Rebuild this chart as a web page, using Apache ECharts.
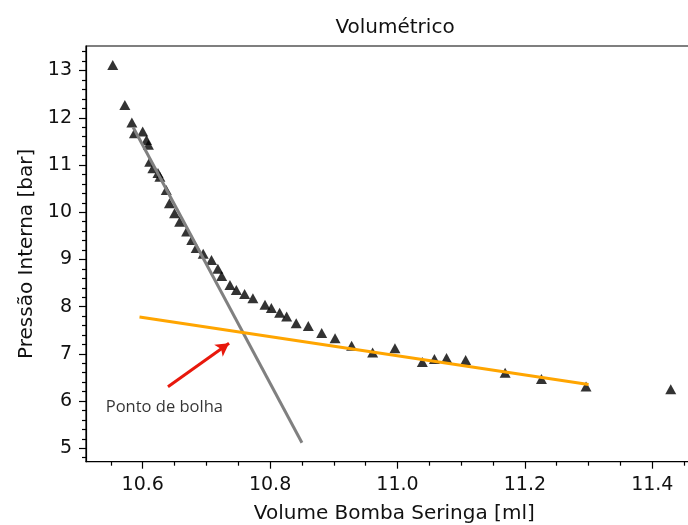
<!DOCTYPE html>
<html>
<head>
<meta charset="utf-8">
<script src="https://cdn.jsdelivr.net/npm/echarts@6/dist/echarts.min.js"></script>
<style>
html,body{margin:0;padding:0;background:#fff;overflow:hidden;}
#c{width:688px;height:525px;}
</style>
</head>
<body>
<div id="c"></div>
<script>
// ---- data ----
const volume = [10.553, 10.572, 10.583, 10.587, 10.600, 10.606, 10.609, 10.611, 10.616, 10.624,
  10.627, 10.637, 10.642, 10.650, 10.658, 10.669, 10.677, 10.684, 10.695, 10.708,
  10.718, 10.724, 10.737, 10.747, 10.760, 10.773, 10.792, 10.802, 10.815, 10.826,
  10.841, 10.860, 10.881, 10.902, 10.928, 10.961, 10.996, 11.039, 11.058, 11.077,
  11.107, 11.169, 11.226, 11.296, 11.429];
const pressure = [13.12, 12.27, 11.90, 11.67, 11.71, 11.53, 11.43, 11.07, 10.93, 10.83,
  10.75, 10.47, 10.19, 9.98, 9.80, 9.59, 9.41, 9.24, 9.12, 8.99,
  8.80, 8.65, 8.46, 8.35, 8.27, 8.18, 8.04, 7.97, 7.87, 7.79,
  7.65, 7.59, 7.44, 7.33, 7.17, 7.03, 7.12, 6.83, 6.89, 6.91,
  6.87, 6.60, 6.47, 6.31, 6.25];
const grayLineX = [10.585, 10.850];
const grayLineY = [11.80, 5.116];
const orangeLineX = [10.595, 11.300];
const orangeLineY = [7.78, 6.35];
const arrowX = [10.6397, 10.7356];
const arrowY = [6.305, 7.225];
const noteText = 'Ponto de bolha';
const noteX = 10.542;
const noteY = 5.86;
const xTicks = [10.6, 10.8, 11.0, 11.2, 11.4];
const xMinorTicks = [10.55, 10.65, 10.7, 10.75, 10.85, 10.9, 10.95, 11.05, 11.1, 11.15, 11.25, 11.3, 11.35, 11.45];
const yTicks = [5, 6, 7, 8, 9, 10, 11, 12, 13];
const yMinorTicks = [];
for (let v = 4.8; v < 13.5; v += 0.2) {
  const r = Math.round(v * 10) / 10;
  if (Math.abs(r - Math.round(r)) > 1e-6) yMinorTicks.push(r);
}
const titleText = 'Volumétrico';
const xName = 'Volume Bomba Seringa [ml]';
const yName = 'Pressão Interna [bar]';

// ---- chart ----
const XMIN = 10.511, XMAX = 11.479, YMIN = 4.716, YMAX = 13.52;
const font = 'DejaVu Sans';
const chart = echarts.init(document.getElementById('c'), null, {renderer: 'canvas'});
const axisLineStyle = {color: '#000', width: 1.2};
chart.setOption({
  animation: false,
  backgroundColor: '#fff',
  title: {
    text: titleText, left: 390, top: 13, textAlign: 'center',
    textStyle: {fontFamily: font, fontSize: 20, fontWeight: 'normal', color: '#111'}
  },
  grid: {left: 86, top: 46, width: 616.6, height: 415.7, outerBoundsMode: 'none', containLabel: false,
    show: true, borderColor: '#000', borderWidth: 1.2, backgroundColor: 'transparent'},
  xAxis: [{
    type: 'value', min: XMIN, max: XMAX, position: 'bottom',
    name: xName, nameLocation: 'middle', nameGap: 42,
    nameTextStyle: {fontFamily: font, fontSize: 20, color: '#111'},
    axisLine: {show: true, lineStyle: axisLineStyle},
    axisTick: {show: true, inside: false, length: 7, lineStyle: axisLineStyle, customValues: xTicks},
    axisLabel: {show: true, margin: 14, customValues: xTicks, formatter: v => v.toFixed(1),
      fontFamily: font, fontSize: 19, color: '#111'},
    splitLine: {show: false}
  }, {
    type: 'value', min: XMIN, max: XMAX, position: 'bottom', offset: 0,
    axisLine: {show: false},
    axisTick: {show: true, inside: false, length: 4, lineStyle: axisLineStyle, customValues: xMinorTicks},
    axisLabel: {show: false},
    splitLine: {show: false}
  }],
  yAxis: [{
    type: 'value', min: YMIN, max: YMAX, position: 'left',
    name: yName, nameLocation: 'middle', nameGap: 49, nameRotate: 90,
    nameTextStyle: {fontFamily: font, fontSize: 20, color: '#111'},
    axisLine: {show: true, lineStyle: axisLineStyle},
    axisTick: {show: true, inside: false, length: 7, lineStyle: axisLineStyle, customValues: yTicks},
    axisLabel: {show: true, margin: 14, customValues: yTicks, formatter: v => String(Math.round(v)),
      fontFamily: font, fontSize: 19, color: '#111'},
    splitLine: {show: false}
  }, {
    type: 'value', min: YMIN, max: YMAX, position: 'left', offset: 0,
    axisLine: {show: false},
    axisTick: {show: true, inside: false, length: 4, lineStyle: axisLineStyle, customValues: yMinorTicks},
    axisLabel: {show: false},
    splitLine: {show: false}
  }],
  series: [{
    type: 'scatter', xAxisIndex: 0, yAxisIndex: 0,
    data: volume.map((v, i) => [v, pressure[i]]),
    symbol: 'triangle', symbolSize: [11, 10],
    itemStyle: {color: '#000'}, z: 2
  }, {
    type: 'line', xAxisIndex: 0, yAxisIndex: 0,
    data: grayLineX.map((v, i) => [v, grayLineY[i]]),
    showSymbol: false, symbol: 'none',
    lineStyle: {color: '#808080', width: 3}, z: 3
  }, {
    type: 'line', xAxisIndex: 0, yAxisIndex: 0,
    data: orangeLineX.map((v, i) => [v, orangeLineY[i]]),
    showSymbol: false, symbol: 'none',
    lineStyle: {color: '#FFA500', width: 3}, z: 4
  }, {
    type: 'scatter', xAxisIndex: 0, yAxisIndex: 0,
    data: [[noteX, noteY]], symbolSize: 0,
    label: {show: true, position: 'right', distance: 0, formatter: noteText,
      fontFamily: 'Open Sans', fontSize: 16.5, color: '#000', align: 'left', verticalAlign: 'middle'},
    markLine: {
      silent: true, symbol: ['none', 'arrow'], symbolSize: [11, 13],
      label: {show: false},
      lineStyle: {color: '#e8180c', width: 3, type: 'solid'},
      data: [[{coord: [arrowX[0], arrowY[0]]}, {coord: [arrowX[1], arrowY[1]]}]]
    },
    z: 5
  }]
});
</script>
</body>
</html>
